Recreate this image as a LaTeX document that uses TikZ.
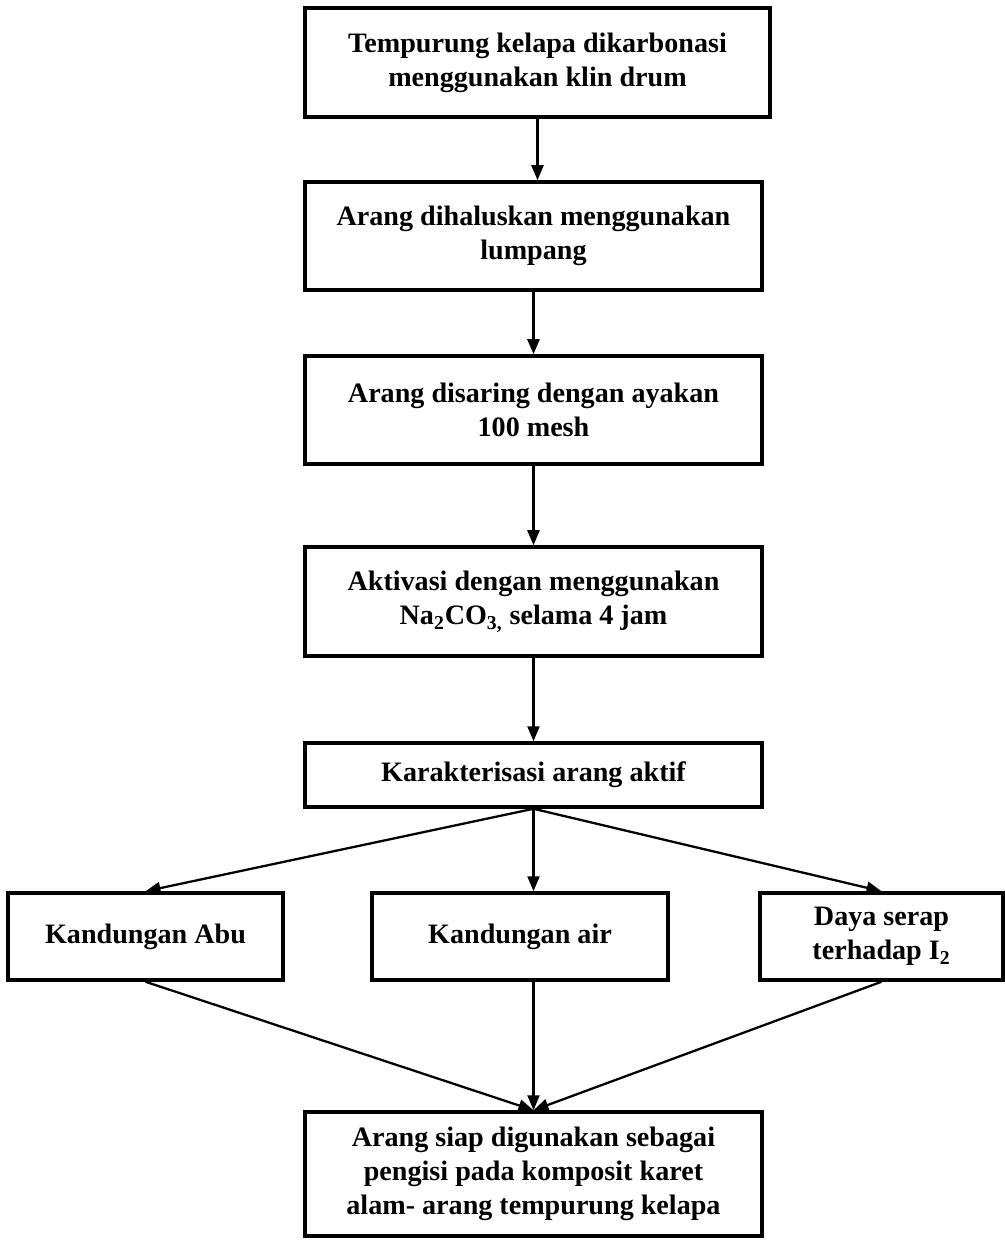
\documentclass[tikz,border=0pt]{standalone}
\usepackage{fontspec}
\setmainfont{Liberation Serif}
\usetikzlibrary{arrows.meta}

\begin{document}
\begin{tikzpicture}[every node/.style={font=\fontsize{16}{19.5}\selectfont\bfseries},
  box/.style={draw, rectangle, line width=2pt, align=center, inner sep=0pt},
  flow/.style={-{Triangle[length=0.3cm, width=0.24cm]}, line width=1.3pt}]
\useasboundingbox (0,0) rectangle (20.1,-24.8);
% Boxes
\node[box, minimum width=9.3cm, minimum height=2.18cm] (karbon) at (10.75,-1.25) {Tempurung kelapa dikarbonasi\\menggunakan klin drum};
\node[box, minimum width=9.14cm, minimum height=2.16cm] (halus) at (10.67,-4.72) {Arang dihaluskan menggunakan\\lumpang};
\node[box, minimum width=9.14cm, minimum height=2.16cm] (saring) at (10.67,-8.2) {Arang disaring dengan ayakan\\100 mesh};
\node[box, minimum width=9.14cm, minimum height=2.18cm] (aktivasi) at (10.67,-12.03) {Aktivasi dengan menggunakan\\Na\textsubscript{2}CO\textsubscript{3,} selama 4 jam};
\node[box, minimum width=9.14cm, minimum height=1.28cm] (karakter) at (10.67,-15.5) {Karakterisasi arang aktif};
\node[box, minimum width=5.5cm, minimum height=1.74cm] (abu) at (2.91,-18.73) {Kandungan Abu};
\node[box, minimum width=5.92cm, minimum height=1.74cm] (air) at (10.4,-18.73) {Kandungan air};
\node[box, minimum width=4.86cm, minimum height=1.74cm] (iodin) at (17.63,-18.73) {Daya serap\\terhadap I\textsubscript{2}};
\node[box, minimum width=9.14cm, minimum height=2.48cm] (siap) at (10.67,-23.48) {Arang siap digunakan sebagai\\pengisi pada komposit karet\\alam- arang tempurung kelapa};

% Arrows
\draw[flow] (karbon.south) -- (karbon.south |- halus.north);
\draw[flow] (halus) -- (saring);
\draw[flow] (saring) -- (aktivasi);
\draw[flow] (aktivasi) -- (karakter);
\draw[flow] (karakter.south) -- (abu.north);
\draw[flow] (karakter.south) -- (karakter.south |- air.north);
\draw[flow] (karakter.south) -- (iodin.north);
\draw[flow] (abu.south) -- (siap.north);
\draw[flow] (karakter.south |- air.south) -- (siap.north);
\draw[flow] (iodin.south) -- (siap.north);
\end{tikzpicture}
\end{document}
